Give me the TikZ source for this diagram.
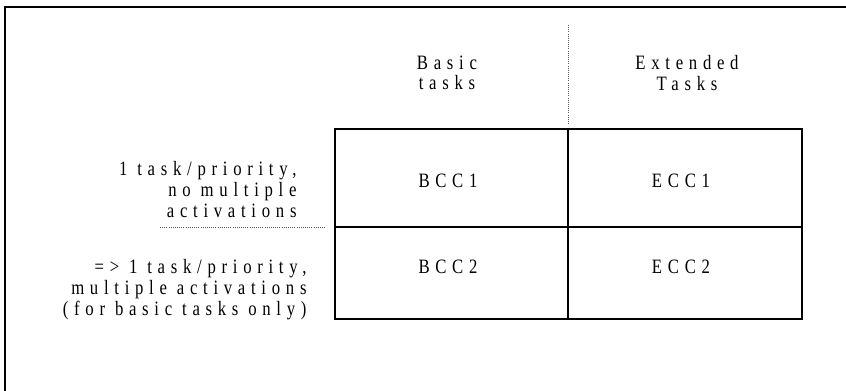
\documentclass[tikz,border=0pt]{standalone}
\usepackage{fontspec}
\newfontfamily\cclassfont[FakeStretch=0.82,LetterSpace=28]{Liberation Serif}

\tikzset{every picture/.style={line width=0.75pt}}
\tikzset{cclass/.style={inner sep=0pt,font=\cclassfont\fontsize{15.3}{15.6}\selectfont}}

\begin{document}
\begin{tikzpicture}[x=0.75pt,y=0.75pt,yscale=-1,xscale=1]
%uncomment if require: \path (0,300); %set diagram left start at 0, and has height of 300
\useasboundingbox (0,0) rectangle (846,391);

%Straight Lines [id:frame]
\draw [line width=1.5]  (5,391) -- (5,7) -- (846,7) ;

%Shape: Rectangle [id:table]
\draw [line width=1.2]  (335,129) rectangle (802,319) ;
%Straight Lines [id:rowsep]
\draw [line width=1.2]  (335,227) -- (802,227) ;
%Straight Lines [id:colsep]
\draw [line width=1.2]  (568,129) -- (568,319) ;

%Straight Lines [id:headsep]
\draw [color={rgb, 255:red, 90; green, 90; blue, 90 }, line width=0.6, densely dotted]  (568,25) -- (568,124) ;
%Straight Lines [id:labelsep]
\draw [color={rgb, 255:red, 90; green, 90; blue, 90 }, line width=0.6, densely dotted]  (160,227) -- (325,227) ;

% Text Node
\draw (447,55) node [anchor=north][cclass][align=center] (basic) {Basic\\tasks};
% Text Node
\draw (687,55) node [anchor=north][cclass][align=center] (extended) {Extended\\Tasks};

% Text Node
\draw (297,161) node [anchor=north east][cclass][align=right] (single) {1 task/priority,\\no multiple\\activations};
% Text Node
\draw (307,259) node [anchor=north east][cclass][align=right] (multi) {=> 1 task/priority,\\multiple activations\\(for basic tasks only)};

% Text Node
\draw (448,181) node [cclass] (bcc1) {BCC1};
% Text Node
\draw (681,181) node [cclass] (ecc1) {ECC1};
% Text Node
\draw (448,267) node [cclass] (bcc2) {BCC2};
% Text Node
\draw (681,267) node [cclass] (ecc2) {ECC2};

\end{tikzpicture}
\end{document}
